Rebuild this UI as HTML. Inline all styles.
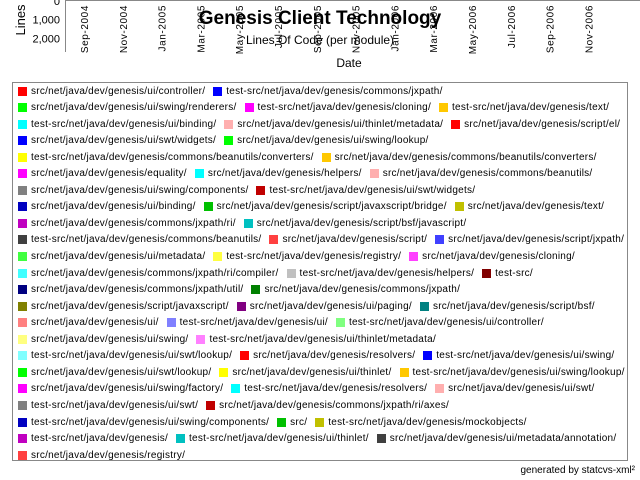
<!DOCTYPE html>
<html><head><meta charset="utf-8">
<style>
body{margin:0;background:#fff;width:640px;height:480px;overflow:hidden;position:relative;font-family:"Liberation Sans",Arial,sans-serif}
#legend{position:absolute;left:12px;top:82px;width:616px;height:379px;border:1px solid #888;box-sizing:border-box}
.row{position:absolute;left:5px;height:12px;display:flex;align-items:center;white-space:nowrap}
.item{display:flex;align-items:center;margin-right:8px}
.sw{width:9px;height:9px;margin-right:4px;flex:none}
.lbl{font-size:10px;color:#000;letter-spacing:0.25px}
</style></head><body>
<svg id="chart" width="640" height="80" style="position:absolute;left:0;top:0">
  <line x1="65" y1="0.5" x2="640" y2="0.5" stroke="#888"/>
  <line x1="65.5" y1="0" x2="65.5" y2="52" stroke="#888"/>
  <g id="yticks"></g>
  <g id="xticks"></g>
  <text transform="translate(25,20) rotate(-90)" text-anchor="middle" font-size="13" fill="#000" font-family="Liberation Sans, sans-serif">Lines</text>
  <text x="320" y="24" text-anchor="middle" font-size="19" font-weight="bold" fill="#000" font-family="Liberation Sans, sans-serif">Genesis Client Technology</text>
  <text x="320" y="44" text-anchor="middle" font-size="12" fill="#000" font-family="Liberation Sans, sans-serif">Lines Of Code (per module)</text>
  <text x="349" y="67" text-anchor="middle" font-size="12" fill="#000" font-family="Liberation Sans, sans-serif">Date</text>
</svg>
<div id="legend"></div>
<div style="position:absolute;right:5px;top:465px;font-size:10px;color:#000">generated by statcvs-xml²</div>
<script>
const yTickValues=[0,1000,2000];
const yTickLabels=["0","1,000","2,000"];
const dateLabels=["Sep-2004","Nov-2004","Jan-2005","Mar-2005","May-2005","Jul-2005","Sep-2005","Nov-2005","Jan-2006","Mar-2006","May-2006","Jul-2006","Sep-2006","Nov-2006"];
const dateIndex=[0,2,4,6,8,10,12,14,16,18,20,22,24,26];
const seriesNames=[
"src/net/java/dev/genesis/ui/controller/","test-src/net/java/dev/genesis/commons/jxpath/",
"src/net/java/dev/genesis/ui/swing/renderers/","test-src/net/java/dev/genesis/cloning/","test-src/net/java/dev/genesis/text/",
"test-src/net/java/dev/genesis/ui/binding/","src/net/java/dev/genesis/ui/thinlet/metadata/","src/net/java/dev/genesis/script/el/",
"src/net/java/dev/genesis/ui/swt/widgets/","src/net/java/dev/genesis/ui/swing/lookup/",
"test-src/net/java/dev/genesis/commons/beanutils/converters/","src/net/java/dev/genesis/commons/beanutils/converters/",
"src/net/java/dev/genesis/equality/","src/net/java/dev/genesis/helpers/","src/net/java/dev/genesis/commons/beanutils/",
"src/net/java/dev/genesis/ui/swing/components/","test-src/net/java/dev/genesis/ui/swt/widgets/",
"src/net/java/dev/genesis/ui/binding/","src/net/java/dev/genesis/script/javaxscript/bridge/","src/net/java/dev/genesis/text/",
"src/net/java/dev/genesis/commons/jxpath/ri/","src/net/java/dev/genesis/script/bsf/javascript/",
"test-src/net/java/dev/genesis/commons/beanutils/","src/net/java/dev/genesis/script/","src/net/java/dev/genesis/script/jxpath/",
"src/net/java/dev/genesis/ui/metadata/","test-src/net/java/dev/genesis/registry/","src/net/java/dev/genesis/cloning/",
"src/net/java/dev/genesis/commons/jxpath/ri/compiler/","test-src/net/java/dev/genesis/helpers/","test-src/",
"src/net/java/dev/genesis/commons/jxpath/util/","src/net/java/dev/genesis/commons/jxpath/",
"src/net/java/dev/genesis/script/javaxscript/","src/net/java/dev/genesis/ui/paging/","src/net/java/dev/genesis/script/bsf/",
"src/net/java/dev/genesis/ui/","test-src/net/java/dev/genesis/ui/","test-src/net/java/dev/genesis/ui/controller/",
"src/net/java/dev/genesis/ui/swing/","test-src/net/java/dev/genesis/ui/thinlet/metadata/",
"test-src/net/java/dev/genesis/ui/swt/lookup/","src/net/java/dev/genesis/resolvers/","test-src/net/java/dev/genesis/ui/swing/",
"src/net/java/dev/genesis/ui/swt/lookup/","src/net/java/dev/genesis/ui/thinlet/","test-src/net/java/dev/genesis/ui/swing/lookup/",
"src/net/java/dev/genesis/ui/swing/factory/","test-src/net/java/dev/genesis/resolvers/","src/net/java/dev/genesis/ui/swt/",
"test-src/net/java/dev/genesis/ui/swt/","src/net/java/dev/genesis/commons/jxpath/ri/axes/",
"test-src/net/java/dev/genesis/ui/swing/components/","src/","test-src/net/java/dev/genesis/mockobjects/",
"test-src/net/java/dev/genesis/","test-src/net/java/dev/genesis/ui/thinlet/","src/net/java/dev/genesis/ui/metadata/annotation/",
"src/net/java/dev/genesis/registry/"];
const seriesColors=["#ff0000","#0000ff","#00ff00","#ff00ff","#ffc800","#00ffff","#ffafaf","#ff0000","#0000ff","#00ff00",
"#ffff00","#ffc800","#ff00ff","#00ffff","#ffafaf","#808080","#c00000","#0000c0","#00c000","#c0c000",
"#c000c0","#00c0c0","#404040","#ff4040","#4040ff","#40ff40","#ffff40","#ff40ff","#40ffff","#c0c0c0",
"#800000","#000080","#008000","#808000","#800080","#008080","#ff8080","#8080ff","#80ff80","#ffff80",
"#ff80ff","#80ffff","#ff0000","#0000ff","#00ff00","#ffff00","#ffc800","#ff00ff","#00ffff","#ffafaf",
"#808080","#c00000","#0000c0","#00c000","#c0c000","#c000c0","#00c0c0","#404040","#ff4040"];
const rowCounts=[2,3,3,2,2,3,2,3,2,3,3,3,2,3,3,2,3,3,3,2,3,3,1];
const NS="http://www.w3.org/2000/svg";
function yScale(v){return 1+v*0.0187;}
function xScale(i){return 84+i*19.4;}
const yt=document.getElementById('yticks');
yTickValues.forEach((v,i)=>{
  const t=document.createElementNS(NS,'text');
  
  
  t.setAttribute('x',60);t.setAttribute('y',yScale(v)+4);
  t.setAttribute('text-anchor','end');t.setAttribute('font-size','11');
  t.setAttribute('font-family','Liberation Sans, sans-serif');
  t.textContent=yTickLabels[i];yt.appendChild(t);
});
const xt=document.getElementById('xticks');
dateLabels.forEach((d,i)=>{
  const x=xScale(dateIndex[i]);
  const t=document.createElementNS(NS,'text');
  
  
  t.setAttribute('transform','translate('+(x+4)+',5) rotate(-90)');
  t.setAttribute('text-anchor','end');t.setAttribute('font-size','10');
  t.setAttribute('letter-spacing','0.6');
  t.setAttribute('font-family','Liberation Sans, sans-serif');
  t.textContent=d;xt.appendChild(t);
});
const lg=document.getElementById('legend');
let k=0;
rowCounts.forEach((c,r)=>{
  const row=document.createElement('div');
  row.className='row';
  
  
  row.style.top=(2+r*16.55)+'px';
  for(let j=0;j<c&&k<seriesNames.length;j++,k++){
    const it=document.createElement('div');it.className='item';
    
    
    const sw=document.createElement('div');sw.className='sw';sw.style.background=seriesColors[k];
    
    
    const l=document.createElement('span');l.className='lbl';l.textContent=seriesNames[k];
    
    
    it.appendChild(sw);it.appendChild(l);row.appendChild(it);
  }
  lg.appendChild(row);
});
</script>
</body></html>
